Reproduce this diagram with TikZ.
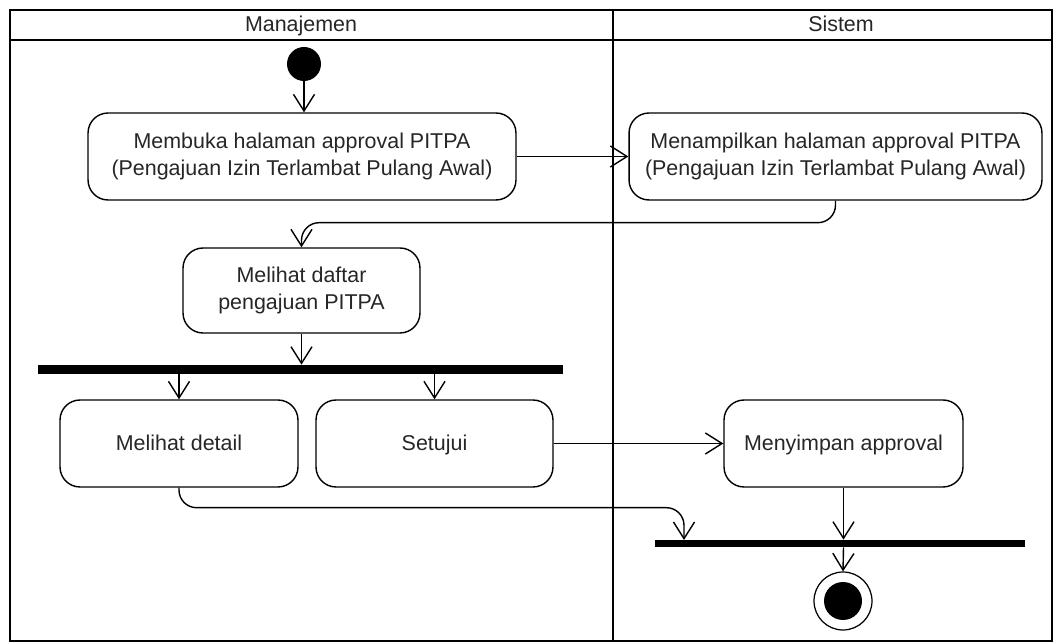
\documentclass[tikz,border=0pt]{standalone}
\usepackage{fontspec}
\setmainfont{Liberation Sans}
\usetikzlibrary{arrows.meta,positioning}

\tikzset{
  action/.style={draw, rounded corners=0.4cm, line width=0.8pt, align=center,
    text=black!85, minimum height=1.74cm, font=\fontsize{12.2}{15.3}\selectfont},
  oneline/.style={text height=1.9ex, text depth=0.4ex},
  bar/.style={fill=black, inner sep=0pt},
  flow/.style={-{Straight Barb[length=9.5pt,width=12pt]}, line width=0.8pt},
  lane/.style={line width=1.3pt},
  lanetitle/.style={text=black!85, oneline, font=\fontsize{12.2}{15.3}\selectfont}
}

\begin{document}
\begin{tikzpicture}[x=0.02cm, y=-0.02cm]
    \useasboundingbox (0,0) rectangle (1062,644);

    % Les couloirs
    \draw[lane] (10,10) rectangle (1052,641);
    \draw[lane] (10,40) -- (1052,40);
    \draw[lane] (613,10) -- (613,641);
    \node[lanetitle] (manajemen) at (301,25) {Manajemen};
    \node[lanetitle] (sistem) at (841,25) {Sistem};

    % Les actions
    \node[circle, fill, inner sep=0pt, minimum size=0.68cm] (start) at (304,64) {};
    \node[action, minimum width=8.56cm] (buka) at (302,156.5)
        {Membuka halaman approval PITPA\\(Pengajuan Izin Terlambat Pulang Awal)};
    \node[action, minimum width=8.26cm] (tampil) at (835.5,156.5)
        {Menampilkan halaman approval PITPA\\(Pengajuan Izin Terlambat Pulang Awal)};
    \node[action, minimum width=4.74cm, minimum height=1.7cm] (daftar) at (301.5,290.5)
        {Melihat daftar\\pengajuan PITPA};
    \node[bar, minimum width=10.5cm, minimum height=0.18cm] (fork) at (300.5,369.5) {};
    \node[action, oneline, minimum width=4.76cm] (detail) at (179,443.5) {Melihat detail};
    \node[action, oneline, minimum width=4.74cm] (setujui) at (434.5,443.5) {Setujui};
    \node[action, oneline, minimum width=4.78cm] (simpan) at (843.5,443.5) {Menyimpan approval};
    \node[bar, minimum width=7.4cm, minimum height=0.14cm] (join) at (840,543.5) {};
    \coordinate (joinleft) at (684,540);
    \node[circle, draw, line width=0.7pt, inner sep=0pt, minimum size=1.16cm] (final) at (843,601) {};
    \node[circle, fill, inner sep=0pt, minimum size=0.76cm] (finaldot) at (final) {};

    % Les flux
    \draw[flow] (start.south) -- (start.south |- buka.north);
    \draw[flow] (buka.east) -- (tampil.west);
    \draw[flow, rounded corners=10] (tampil.south) -- ++(0,22) -| (daftar.north);
    \draw[flow] (daftar.south) -- (daftar.south |- fork.north);
    \draw[flow] (detail.north |- fork.south) -- (detail.north);
    \draw[flow] (setujui.north |- fork.south) -- (setujui.north);
    \draw[flow] (setujui.east) -- (simpan.west);
    \draw[flow, rounded corners=10] (detail.south) -- ++(0,20) -| (joinleft);
    \draw[flow] (simpan.south) -- (simpan.south |- join.north);
    \draw[flow] (simpan.south |- join.south) -- (final.north);
\end{tikzpicture}
\end{document}
